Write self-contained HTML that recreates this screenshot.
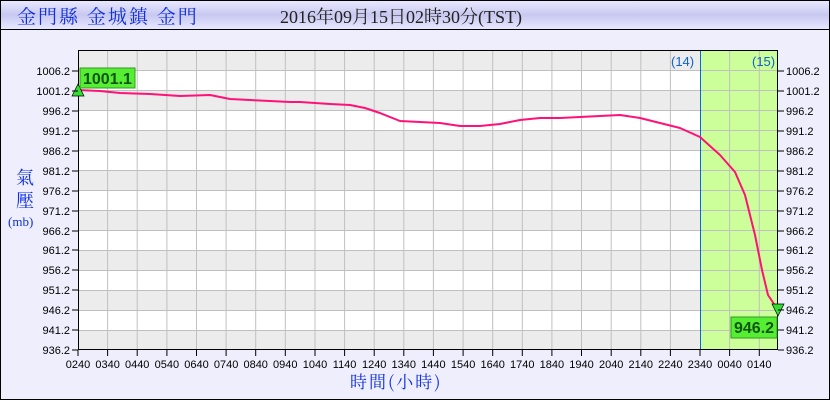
<!DOCTYPE html>
<html><head><meta charset="utf-8"><style>
body{margin:0;width:830px;height:400px;overflow:hidden;background:#fff}
</style></head><body>
<svg width="830" height="400" xmlns="http://www.w3.org/2000/svg" font-family="Liberation Sans, sans-serif">
<defs><linearGradient id="tb" x1="0" y1="0" x2="0" y2="1"><stop offset="0" stop-color="#e8e8ff"/><stop offset="0.5" stop-color="#c8c8f0"/><stop offset="1" stop-color="#e8e8ff"/></linearGradient></defs>
<rect x="0.5" y="0.5" width="829" height="399" fill="#eeeefc" stroke="#000"/>
<rect x="1" y="1" width="828" height="28" fill="url(#tb)"/>
<line x1="0" y1="29.5" x2="830" y2="29.5" stroke="#000"/>
<text x="17" y="23" font-size="19" fill="#1030e0" font-family="Noto Serif CJK SC, serif" letter-spacing="2">金門縣 金城鎮 金門</text>
<text x="280" y="23" font-size="18" fill="#222" font-family="Liberation Serif, Noto Serif CJK SC, serif">2016年09月15日02時30分(TST)</text>
<rect x="78" y="50" width="700" height="300" fill="#fff"/>
<g fill="#ececec">
<rect x="78" y="50" width="622" height="20"/><rect x="78" y="90" width="622" height="20"/><rect x="78" y="130" width="622" height="20"/><rect x="78" y="170" width="622" height="20"/><rect x="78" y="210" width="622" height="20"/><rect x="78" y="250" width="622" height="20"/><rect x="78" y="290" width="622" height="20"/><rect x="78" y="330" width="622" height="20"/>
</g>
<rect x="700" y="50" width="78" height="300" fill="#ccff99"/>
<g stroke="#c0c0c0" stroke-width="1">
<path d="M107.6 50V350M137.2 50V350M166.9 50V350M196.5 50V350M226.1 50V350M255.7 50V350M285.3 50V350M315 50V350M344.6 50V350M374.2 50V350M403.8 50V350M433.4 50V350M463.1 50V350M492.7 50V350M522.3 50V350M551.9 50V350M581.5 50V350M611.2 50V350M640.8 50V350M670.4 50V350M729.6 50V350M759.3 50V350"/>
<path d="M78 70.5H778M78 90.5H778M78 110.5H778M78 130.5H778M78 150.5H778M78 170.5H778M78 190.5H778M78 210.5H778M78 230.5H778M78 250.5H778M78 270.5H778M78 290.5H778M78 310.5H778M78 330.5H778"/>
</g>
<line x1="700.5" y1="50" x2="700.5" y2="350" stroke="#0066ee"/>
<text x="671" y="66" font-size="13" fill="#1060d0">(14)</text>
<text x="752" y="66" font-size="13" fill="#1060d0">(15)</text>
<polyline fill="none" stroke="#ff1177" stroke-width="2" stroke-linejoin="round" points="78,90 100,91 120,93 150,94 180,96 210,95 230,99 250,100 270,101 290,102 300,102 330,104 350,105 365,108 380,113 400,121 420,122 440,123 460,126 480,126 500,124 520,120 540,118 560,118 580,117 600,116 620,115 640,118 660,123 680,128 700,137 720,155 735,172 745,195 755,235 762,270 768,295 778,310"/>
<rect x="78.5" y="50.5" width="699" height="299" fill="none" stroke="#000"/>
<polygon points="78,84 72,96 84,96" fill="#33dd33" stroke="#000" stroke-width="0.7"/>
<polygon points="778,316 772,304 784,304" fill="#33dd33" stroke="#000" stroke-width="0.7"/>
<rect x="80" y="68" width="55" height="20" fill="#55ee33" stroke="#339922"/>
<text x="83" y="84" font-size="16" font-weight="bold" fill="#115511">1001.1</text>
<rect x="731" y="317" width="46" height="21" fill="#55ee33" stroke="#339922"/>
<text x="734" y="333" font-size="16" font-weight="bold" fill="#115511">946.2</text>
<g stroke="#000">
<path d="M72 71H78M72 91H78M72 111H78M72 131H78M72 151H78M72 171H78M72 191H78M72 211H78M72 231H78M72 250H78M72 270H78M72 290H78M72 310H78M72 330H78M72 350H78"/>
<path d="M778 71H784M778 91H784M778 111H784M778 131H784M778 151H784M778 171H784M778 191H784M778 211H784M778 231H784M778 250H784M778 270H784M778 290H784M778 310H784M778 330H784M778 350H784"/>
<path d="M78 350V356M107.6 350V356M137.2 350V356M166.9 350V356M196.5 350V356M226.1 350V356M255.7 350V356M285.3 350V356M315 350V356M344.6 350V356M374.2 350V356M403.8 350V356M433.4 350V356M463.1 350V356M492.7 350V356M522.3 350V356M551.9 350V356M581.5 350V356M611.2 350V356M640.8 350V356M670.4 350V356M700 350V356M729.6 350V356M759.3 350V356"/>
</g>
<g font-size="11" fill="#000" text-anchor="end">
<text x="70" y="75">1006.2</text><text x="70" y="95">1001.2</text><text x="70" y="115">996.2</text><text x="70" y="135">991.2</text><text x="70" y="155">986.2</text><text x="70" y="175">981.2</text><text x="70" y="195">976.2</text><text x="70" y="215">971.2</text><text x="70" y="235">966.2</text><text x="70" y="254">961.2</text><text x="70" y="274">956.2</text><text x="70" y="294">951.2</text><text x="70" y="314">946.2</text><text x="70" y="334">941.2</text><text x="70" y="354">936.2</text>
</g>
<g font-size="11" fill="#000">
<text x="786" y="75">1006.2</text><text x="786" y="95">1001.2</text><text x="786" y="115">996.2</text><text x="786" y="135">991.2</text><text x="786" y="155">986.2</text><text x="786" y="175">981.2</text><text x="786" y="195">976.2</text><text x="786" y="215">971.2</text><text x="786" y="235">966.2</text><text x="786" y="254">961.2</text><text x="786" y="274">956.2</text><text x="786" y="294">951.2</text><text x="786" y="314">946.2</text><text x="786" y="334">941.2</text><text x="786" y="354">936.2</text>
</g>
<g font-size="11" fill="#000" text-anchor="middle">
<text x="78" y="368">0240</text><text x="107.6" y="368">0340</text><text x="137.2" y="368">0440</text><text x="166.9" y="368">0540</text><text x="196.5" y="368">0640</text><text x="226.1" y="368">0740</text><text x="255.7" y="368">0840</text><text x="285.3" y="368">0940</text><text x="315" y="368">1040</text><text x="344.6" y="368">1140</text><text x="374.2" y="368">1240</text><text x="403.8" y="368">1340</text><text x="433.4" y="368">1440</text><text x="463.1" y="368">1540</text><text x="492.7" y="368">1640</text><text x="522.3" y="368">1740</text><text x="551.9" y="368">1840</text><text x="581.5" y="368">1940</text><text x="611.2" y="368">2040</text><text x="640.8" y="368">2140</text><text x="670.4" y="368">2240</text><text x="700" y="368">2340</text><text x="729.6" y="368">0040</text><text x="759.3" y="368">0140</text>
</g>
<text x="16" y="184" font-size="18" fill="#1030e0" font-family="Noto Serif CJK SC, serif">氣</text>
<text x="16" y="207" font-size="18" fill="#1030e0" font-family="Noto Serif CJK SC, serif">壓</text>
<text x="8" y="226" font-size="13" fill="#1030e0" font-family="Liberation Serif, serif">(mb)</text>
<text x="350" y="388" font-size="17" fill="#1030e0" font-family="Noto Serif CJK SC, serif" letter-spacing="2">時間(小時)</text>
</svg>
</body></html>
